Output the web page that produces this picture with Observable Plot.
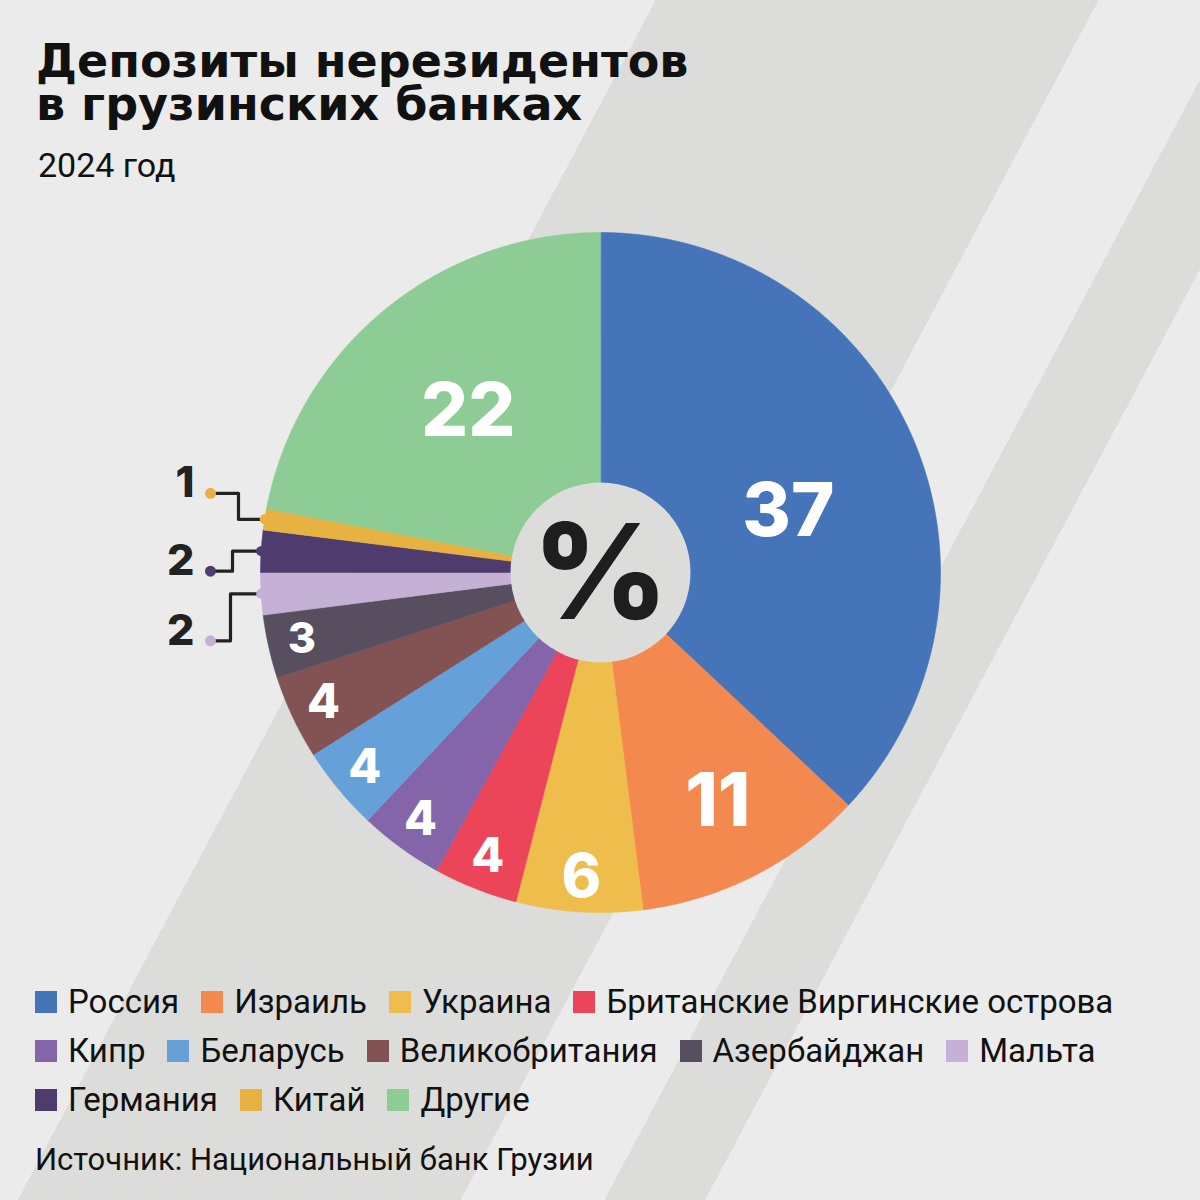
<!DOCTYPE html>
<html>
<head>
<meta charset="utf-8">
<script src="https://cdn.jsdelivr.net/npm/d3@7"></script>
<script src="https://cdn.jsdelivr.net/npm/@observablehq/plot@0.6"></script>
<style>
  html, body { margin: 0; padding: 0; }
  #wrap {
    position: relative; width: 1200px; height: 1200px; overflow: hidden;
    background: linear-gradient(118deg,
      #eaebea 0px, #eaebea 579px,
      #dcdddb 579px, #dcdddb 970px,
      #eaebea 970px, #eaebea 1097px,
      #dcdddb 1097px, #dcdddb 1186px,
      #eaebea 1186px, #eaebea 1700px);
    color: #111;
  }
  .title {
    position: absolute; left: 36px; margin: 0; white-space: nowrap;
    font-family: "DejaVu Sans", sans-serif; font-weight: bold;
    font-size: 46px; line-height: 42px; height: 42px; color: #111;
  }
  #t1 { top: 40px; }
  #t2 { top: 83px; }
  #sub {
    position: absolute; left: 38px; top: 148px;
    font-family: Roboto, sans-serif; font-size: 34px; line-height: 34px; color: #111;
  }
  #chart { position: absolute; left: 0; top: 192px; width: 1200px; height: 760px; }
  #legend { position: absolute; left: 35px; top: 977px; width: 1160px; }
  #legend > div { font-family: Roboto, sans-serif !important; font-size: 33px !important; line-height: 49px; color: #111; margin: 0 !important; display: flex; flex-wrap: wrap; align-items: center; }
  #legend > div > span { display: inline-flex; align-items: center; margin-right: 22px !important; height: 49px; }
  #legend > div > span > svg { margin-right: 11px !important; }
  #src {
    position: absolute; left: 35px; top: 1144px;
    font-family: Roboto, sans-serif; font-size: 31px; line-height: 31px; color: #111;
  }
</style>
</head>
<body>
<div id="wrap">
  <div class="title" id="t1">Депозиты нерезидентов</div>
  <div class="title" id="t2">в грузинских банках</div>
  <div id="sub">2024 год</div>
  <div id="chart"></div>
  <div id="legend"></div>
  <div id="src">Источник: Национальный банк Грузии</div>
</div>
<script>
// ---- data ----
const countries = ["Россия", "Израиль", "Украина", "Британские Виргинские острова", "Кипр", "Беларусь",
  "Великобритания", "Азербайджан", "Мальта", "Германия", "Китай", "Другие"];
const shares = [37, 11, 6, 4, 4, 4, 4, 3, 2, 2, 1, 22];
const colors = ["#4674b9", "#f4894f", "#efbd4b", "#ec4559", "#8565aa", "#65a1d8",
  "#835252", "#574e5f", "#c5b0d6", "#4d3c6d", "#e8b242", "#8dcc94"];
const calloutCountries = ["Китай", "Германия", "Мальта"];
const centerSymbol = "%";

// ---- layout ----
const W = 1200, H = 760, R = 340, HOLE = 90;
const calloutDy = {"Китай": -26, "Германия": 20, "Мальта": 47};
const calloutElbow = {"Китай": -362, "Германия": -368, "Мальта": -370};
const calloutDotX = -390;

const data = countries.map((name, i) => ({name, value: shares[i]}));
const arcs = d3.pie().sort(null).value(d => d.value).startAngle(0).endAngle(2 * Math.PI)(data);

const pt = (a, r) => [r * Math.sin(a), -r * Math.cos(a)];

const slices = arcs.map(p => {
  const n = Math.max(2, Math.ceil((p.endAngle - p.startAngle) / 0.004));
  const ring = [[0, 0]];
  for (let i = 0; i <= n; i++) ring.push(pt(p.startAngle + (p.endAngle - p.startAngle) * i / n, R));
  ring.push([0, 0]);
  return {type: "Feature", properties: {name: p.data.name}, geometry: {type: "Polygon", coordinates: [ring]}};
});

const inside = arcs.filter(p => !calloutCountries.includes(p.data.name)).map(p => {
  const v = p.data.value;
  // the largest slice's label sits a little past its middle, as in the original
  const mid = (p.startAngle + p.endAngle) / 2 + (v >= 30 ? 0.1 : 0);
  const k = v >= 30 ? 0.58 : v >= 20 ? 0.61 : v >= 10 ? 0.76 : 0.9;
  const [x, y] = pt(mid, R * k);
  const size = v >= 11 ? 74 : v >= 6 ? 60 : v >= 4 ? 48 : 43;
  return {x, y, label: String(v), size};
});

const callouts = arcs.filter(p => calloutCountries.includes(p.data.name)).map(p => {
  const mid = (p.startAngle + p.endAngle) / 2;
  const [ex, ey] = pt(mid, R);
  const dy = ey + calloutDy[p.data.name];
  return {name: p.data.name, value: p.data.value, ex, ey, dx: calloutDotX, dy, elbow: calloutElbow[p.data.name]};
});
const leaderPts = callouts.flatMap(c => [
  {name: c.name, x: c.dx, y: c.dy},
  {name: c.name, x: c.elbow, y: c.dy},
  {name: c.name, x: c.elbow, y: c.ey},
  {name: c.name, x: c.ex, y: c.ey}
]);

const colorScale = {type: "ordinal", domain: countries, range: colors};

const chart = Plot.plot({
  width: W, height: H,
  margin: 0,
  style: {background: "transparent", overflow: "visible"},
  projection: {type: "identity", domain: {type: "MultiPoint", coordinates: [[-W / 2, -H / 2], [W / 2, H / 2]]}},
  color: colorScale,
  marks: [
    Plot.geo(slices, {fill: d => d.properties.name, stroke: d => d.properties.name, strokeWidth: 0.6}),
    Plot.dot([0], {x: () => 0, y: () => 0, r: HOLE, fill: "#dcdddb", stroke: "none"}),
    Plot.text([centerSymbol], {x: () => 0, y: () => 4, text: d => d, fontSize: 132, fontWeight: 800,
      fontFamily: "Inter, 'Open Sans', sans-serif", fill: "#1e1e1e"}),
    Plot.text(inside, {x: "x", y: "y", text: "label", fontSize: "size", fontWeight: 800,
      fontFamily: "Inter, 'Open Sans', sans-serif", fill: "white"}),
    Plot.line(leaderPts, {x: "x", y: "y", z: "name", stroke: "#222", strokeWidth: 3.2, curve: "linear"}),
    Plot.dot(callouts, {x: "ex", y: "ey", r: 5, fill: "name", stroke: "none"}),
    Plot.dot(callouts, {x: "dx", y: "dy", r: 5.5, fill: "name", stroke: "none"}),
    Plot.text(callouts, {x: d => d.dx - 16, y: d => d.dy - 10, text: d => String(d.value), textAnchor: "end",
      fontSize: 43, fontWeight: 800, fontFamily: "Inter, 'Open Sans', sans-serif", fill: "#222"})
  ]
});
document.getElementById("chart").appendChild(chart);

const legend = Plot.legend({color: colorScale, swatchSize: 22, swatchWidth: 22, swatchHeight: 22});
document.getElementById("legend").appendChild(legend);
</script>
</body>
</html>
